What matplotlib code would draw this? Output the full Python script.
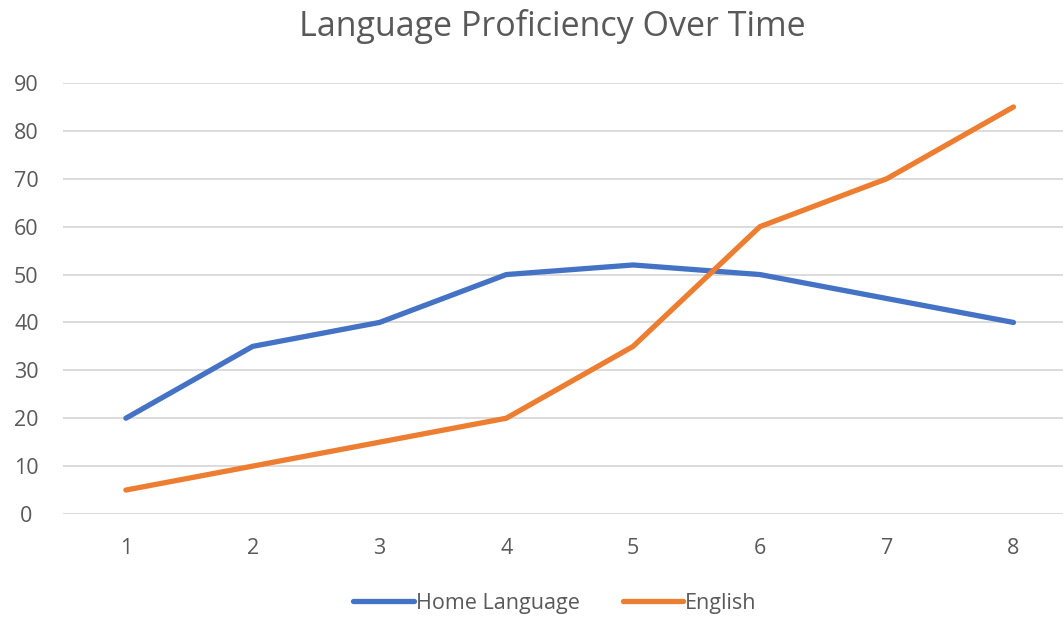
import numpy as np
import matplotlib
matplotlib.use("Agg")
from matplotlib import pyplot as plt

plt.rcParams['font.family'] = ['Open Sans', 'DejaVu Sans']

periods = [1, 2, 3, 4, 5, 6, 7, 8]
home_language = [20, 35, 40, 50, 52, 50, 45, 40]
english = [5, 10, 15, 20, 35, 60, 70, 85]
y_ticks = [0, 10, 20, 30, 40, 50, 60, 70, 80, 90]

text_col = '#595959'

fig = plt.figure(figsize=(10.63, 6.17), dpi=100)
ax = fig.add_axes([62.5 / 1063, 103 / 617, 1 - 62.5 / 1063, 431 / 617])

ax.plot(periods, home_language, color='#4472C4', lw=3.8, solid_capstyle='round',
        solid_joinstyle='round', label='Home Language')
ax.plot(periods, english, color='#ED7D31', lw=3.8, solid_capstyle='round',
        solid_joinstyle='round', label='English')

ax.set_xlim(0.5, 0.5 + (1063 - 62.5) / 126.8)
ax.set_ylim(0, 90)
ax.set_yticks(y_ticks)
ax.set_xticks(periods)
ax.grid(axis='y', color='#D9D9D9', lw=1.3)
ax.set_axisbelow(True)
for s in ax.spines.values():
    s.set_visible(False)
ax.tick_params(length=0, labelsize=15.5, labelcolor=text_col)
ax.tick_params(axis='y', pad=26)
ax.tick_params(axis='x', pad=17)
for lbl in ax.get_yticklabels():
    lbl.set_horizontalalignment('center')

fig.text(552 / 1063, 1 - 27 / 617, 'Language Proficiency Over Time', ha='center', va='center',
         fontsize=24.5, color=text_col)

fig.legend(loc='center', bbox_to_anchor=(555 / 1063, 1 - 603 / 617), ncol=2, frameon=False,
           fontsize=15.5, handlelength=2.8, columnspacing=2.0, handletextpad=0.1,
           labelcolor=text_col)

fig.savefig('out.png', dpi=100)
